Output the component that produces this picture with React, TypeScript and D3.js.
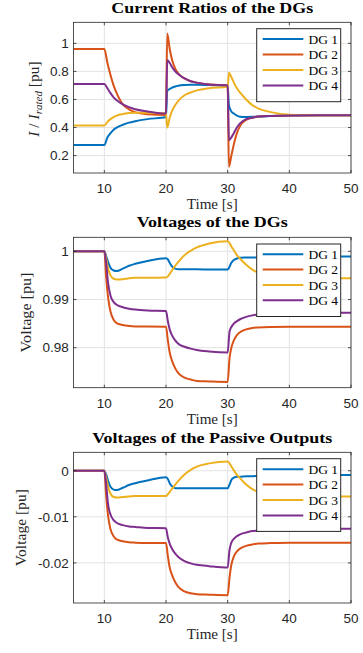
import React from "react";
import * as d3 from "d3";

// ---------- DATA ----------
const SERIES_NAMES = ["DG 1", "DG 2", "DG 3", "DG 4"];
const X_TICKS = [10, 20, 30, 40, 50];
const X_TICK_LABELS = ["10", "20", "30", "40", "50"];

// Plot 1: current ratios
const T1 = [5, 10, 10.5, 11, 11.5, 12, 13, 14, 15, 17, 20, 20.2, 20.6, 21, 21.5, 22, 23, 24, 25, 27, 30, 30.2, 30.6, 31, 31.5, 32, 33, 34, 35, 37, 40, 45, 50];
const CUR_DG1 = [0.275, 0.275, 0.33, 0.36, 0.385, 0.4, 0.42, 0.435, 0.445, 0.46, 0.475, 0.66, 0.675, 0.685, 0.693, 0.698, 0.703, 0.705, 0.705, 0.703, 0.7, 0.56, 0.515, 0.5, 0.485, 0.477, 0.475, 0.476, 0.478, 0.482, 0.486, 0.487, 0.487];
const CUR_DG2 = [0.96, 0.96, 0.86, 0.775, 0.7, 0.645, 0.565, 0.53, 0.51, 0.495, 0.49, 1.07, 0.96, 0.88, 0.82, 0.785, 0.75, 0.73, 0.72, 0.707, 0.7, 0.12, 0.2, 0.28, 0.36, 0.41, 0.455, 0.47, 0.478, 0.483, 0.486, 0.487, 0.487];
const CUR_DG3 = [0.415, 0.415, 0.44, 0.46, 0.475, 0.485, 0.497, 0.503, 0.506, 0.505, 0.5, 0.4, 0.47, 0.52, 0.56, 0.59, 0.63, 0.65, 0.665, 0.68, 0.69, 0.79, 0.76, 0.72, 0.68, 0.65, 0.6, 0.56, 0.535, 0.51, 0.492, 0.488, 0.487];
const CUR_DG4 = [0.71, 0.71, 0.68, 0.645, 0.615, 0.595, 0.565, 0.545, 0.53, 0.515, 0.5, 0.88, 0.86, 0.83, 0.8, 0.78, 0.75, 0.73, 0.72, 0.707, 0.7, 0.31, 0.33, 0.36, 0.4, 0.43, 0.46, 0.47, 0.478, 0.483, 0.486, 0.487, 0.487];
const Y1_TICKS = [0.2, 0.4, 0.6, 0.8, 1];
const Y1_TICK_LABELS = ["0.2", "0.4", "0.6", "0.8", "1"];

// Plots 2 & 3 share time samples
const T2 = [5, 10, 10.3, 10.6, 11, 11.5, 12, 13, 14, 15, 17, 20, 20.3, 20.6, 21, 21.5, 22, 23, 24, 25, 27, 30, 30.3, 30.6, 31, 31.5, 32, 33, 34, 35, 37, 40, 45, 50];

// Plot 2: voltages of the DGs
const VDG_DG1 = [1, 1, 0.999, 0.9978, 0.9966, 0.996, 0.9959, 0.9964, 0.997, 0.9974, 0.998, 0.99855, 0.9983, 0.9976, 0.9968, 0.9964, 0.99625, 0.99625, 0.99625, 0.99625, 0.99622, 0.9962, 0.9968, 0.9976, 0.9982, 0.9985, 0.99865, 0.9987, 0.99872, 0.99875, 0.9988, 0.99885, 0.9989, 0.9989];
const VDG_DG2 = [1, 1, 0.9945, 0.9905, 0.9875, 0.9858, 0.9851, 0.9847, 0.9845, 0.9844, 0.9844, 0.98435, 0.9815, 0.979, 0.9772, 0.9757, 0.9747, 0.9738, 0.9734, 0.9731, 0.973, 0.9729, 0.9778, 0.98, 0.9815, 0.9826, 0.9832, 0.9838, 0.9841, 0.9842, 0.9843, 0.98435, 0.98436, 0.98436];
const VDG_DG3 = [1, 1, 0.9985, 0.9965, 0.995, 0.9943, 0.99415, 0.9942, 0.9944, 0.9945, 0.9945, 0.99455, 0.9948, 0.9953, 0.9961, 0.997, 0.9978, 0.9992, 1.0001, 1.0008, 1.0016, 1.0021, 1.0017, 1.001, 1.0002, 0.9992, 0.9985, 0.9972, 0.9962, 0.9955, 0.9949, 0.99455, 0.99442, 0.9944];
const VDG_DG4 = [1, 1, 0.9975, 0.9935, 0.9908, 0.9895, 0.9889, 0.9884, 0.9881, 0.9879, 0.9877, 0.9876, 0.9855, 0.9838, 0.9825, 0.9815, 0.9808, 0.9802, 0.9798, 0.9795, 0.9792, 0.979, 0.9833, 0.9843, 0.985, 0.9855, 0.9859, 0.9864, 0.9867, 0.9869, 0.9871, 0.98715, 0.98725, 0.98727];
const Y2_TICKS = [0.98, 0.99, 1];
const Y2_TICK_LABELS = ["0.98", "0.99", "1"];

// Plot 3: voltages of the passive outputs
const VPO_DG1 = [0, 0, -0.0008, -0.0022, -0.0035, -0.0041, -0.0042, -0.0037, -0.0031, -0.0027, -0.0021, -0.0014, -0.0018, -0.0027, -0.0034, -0.0038, -0.0038, -0.0038, -0.0038, -0.0038, -0.0038, -0.0038, -0.003, -0.002, -0.0015, -0.0013, -0.0013, -0.0012, -0.0012, -0.0011, -0.0011, -0.001, -0.00095, -0.0009];
const VPO_DG2 = [0, 0, -0.0055, -0.0097, -0.0127, -0.0142, -0.0149, -0.0153, -0.0155, -0.0156, -0.0157, -0.0157, -0.0185, -0.021, -0.0227, -0.0242, -0.0252, -0.0262, -0.0266, -0.0268, -0.0269, -0.027, -0.0232, -0.0204, -0.0186, -0.0175, -0.0169, -0.0163, -0.016, -0.0158, -0.0157, -0.0156, -0.0156, -0.0156];
const VPO_DG3 = [0, 0, -0.0015, -0.0035, -0.005, -0.0057, -0.0058, -0.0057, -0.0056, -0.0055, -0.0055, -0.0055, -0.0051, -0.0046, -0.0039, -0.003, -0.0022, -0.0008, 0.0002, 0.0009, 0.0016, 0.002, 0.0016, 0.0009, 0.0001, -0.0009, -0.0016, -0.003, -0.004, -0.0046, -0.0052, -0.0055, -0.0056, -0.0056];
const VPO_DG4 = [0, 0, -0.003, -0.0072, -0.0095, -0.0107, -0.0113, -0.0118, -0.0121, -0.0122, -0.0124, -0.01247, -0.0145, -0.0158, -0.017, -0.018, -0.0187, -0.0196, -0.0201, -0.0204, -0.0207, -0.021, -0.0172, -0.0156, -0.0148, -0.0142, -0.0138, -0.0134, -0.0131, -0.013, -0.0128, -0.0127, -0.0126, -0.0126];
const Y3_TICKS = [-0.02, -0.01, 0];
const Y3_TICK_LABELS = ["-0.02", "-0.01", "0"];

// ---------- STYLE ----------
const COLORS = ["#0072BD", "#D95319", "#EDB120", "#7E2F8E"];
const AXIS_COLOR = "#262626";
const GRID_COLOR = "#e3e3e3";
const SANS = "'Liberation Sans', Arial, Helvetica, sans-serif";
const SERIF = "'Liberation Serif', 'Times New Roman', serif";
const X_LEFT = 73.5;
const X_RIGHT = 351;

type PanelProps = {
  id: string;
  top: number;
  bottom: number;
  yDomain: [number, number];
  yTicks: number[];
  yTickLabels: string[];
  times: number[];
  series: number[][];
  title: string;
  titleY: number;
  titleLen: number;
  xTickY: number;
  xLabelY: number;
  ylabel: React.ReactNode;
  ylabelX: number;
  ylabelLen?: number;
  ylabelSize?: number;
  ylabelCy?: number;
  legendY: number;
  legendRows: number[];
};

function Panel(p: PanelProps) {
  const x = d3.scaleLinear().domain([5, 50]).range([X_LEFT, X_RIGHT]);
  const y = d3.scaleLinear().domain(p.yDomain).range([p.bottom, p.top]);
  const line = d3
    .line<[number, number]>()
    .x((d) => x(d[0]))
    .y((d) => y(d[1]))
    .curve(d3.curveMonotoneX);
  const tickLen = 3;
  const cy = p.ylabelCy ?? (p.top + p.bottom) / 2;
  const cx = (X_LEFT + X_RIGHT) / 2;
  const legX = 256.7;
  const legW = 84;
  const legH = p.legendRows[3] - p.legendRows[0] + 26.5;
  return (
    <g>
      <defs>
        <clipPath id={"clip" + p.id}>
          <rect x={X_LEFT} y={p.top} width={X_RIGHT - X_LEFT} height={p.bottom - p.top} />
        </clipPath>
      </defs>
      <rect x={X_LEFT} y={p.top} width={X_RIGHT - X_LEFT} height={p.bottom - p.top} fill="#fff" />
      {/* grid */}
      {X_TICKS.map((t) => (
        <line key={"gx" + t} x1={x(t)} x2={x(t)} y1={p.top} y2={p.bottom} stroke={GRID_COLOR} strokeWidth={1} />
      ))}
      {p.yTicks.map((t) => (
        <line key={"gy" + t} x1={X_LEFT} x2={X_RIGHT} y1={y(t)} y2={y(t)} stroke={GRID_COLOR} strokeWidth={1} />
      ))}
      {/* series */}
      <g clipPath={`url(#clip${p.id})`}>
        {p.series.map((s, i) => (
          <path
            key={"s" + i}
            d={line(p.times.map((t, k) => [t, s[k]] as [number, number])) || ""}
            fill="none"
            stroke={COLORS[i]}
            strokeWidth={2}
            strokeLinejoin="round"
          />
        ))}
      </g>
      {/* box */}
      <rect x={X_LEFT} y={p.top} width={X_RIGHT - X_LEFT} height={p.bottom - p.top} fill="none" stroke={AXIS_COLOR} strokeWidth={0.8} />
      {/* ticks */}
      {X_TICKS.map((t) => (
        <g key={"tx" + t}>
          <line x1={x(t)} x2={x(t)} y1={p.bottom} y2={p.bottom - tickLen} stroke={AXIS_COLOR} strokeWidth={0.8} />
          <line x1={x(t)} x2={x(t)} y1={p.top} y2={p.top + tickLen} stroke={AXIS_COLOR} strokeWidth={0.8} />
        </g>
      ))}
      {p.yTicks.map((t) => (
        <g key={"ty" + t}>
          <line x1={X_LEFT} x2={X_LEFT + tickLen} y1={y(t)} y2={y(t)} stroke={AXIS_COLOR} strokeWidth={0.8} />
          <line x1={X_RIGHT} x2={X_RIGHT - tickLen} y1={y(t)} y2={y(t)} stroke={AXIS_COLOR} strokeWidth={0.8} />
        </g>
      ))}
      {/* tick labels */}
      {X_TICKS.map((t, i) => (
        <text key={"lx" + t} x={x(t)} y={p.xTickY} textAnchor="middle" fontFamily={SANS} fontSize={13.5} fill={AXIS_COLOR}>
          {X_TICK_LABELS[i]}
        </text>
      ))}
      {p.yTicks.map((t, i) => (
        <text key={"ly" + t} x={68.8} y={y(t) + 4.8} textAnchor="end" fontFamily={SANS} fontSize={13.5} fill={AXIS_COLOR}>
          {p.yTickLabels[i]}
        </text>
      ))}
      {/* title */}
      <text x={cx} y={p.titleY} textAnchor="middle" fontFamily={SERIF} fontWeight="bold" fontSize={14} fill="#000" textLength={p.titleLen} lengthAdjust="spacingAndGlyphs">
        {p.title}
      </text>
      {/* x label */}
      <text x={cx} y={p.xLabelY} textAnchor="middle" fontFamily={SERIF} fontSize={14} fill={AXIS_COLOR} textLength={51} lengthAdjust="spacingAndGlyphs">
        Time [s]
      </text>
      {/* y label */}
      <text
        transform={`translate(${p.ylabelX},${cy}) rotate(-90)`}
        textAnchor="middle"
        fontFamily={SERIF}
        fontSize={p.ylabelSize ?? 14}
        fill={AXIS_COLOR}
        textLength={p.ylabelLen}
        lengthAdjust={p.ylabelLen ? "spacingAndGlyphs" : undefined}
      >
        {p.ylabel}
      </text>
      {/* legend */}
      <rect x={legX} y={p.legendY} width={legW} height={legH} fill="#fff" stroke={AXIS_COLOR} strokeWidth={1} />
      {SERIES_NAMES.map((n, i) => (
        <g key={"lg" + i}>
          <line x1={262.7} x2={303.3} y1={p.legendRows[i]} y2={p.legendRows[i]} stroke={COLORS[i]} strokeWidth={2} />
          <text x={308.5} y={p.legendRows[i] + 4.5} fontFamily={SERIF} fontSize={13.5} fill="#000">
            {n}
          </text>
        </g>
      ))}
    </g>
  );
}

export default function App() {
  return (
    <svg
      width={363}
      height={653}
      viewBox="0 0 363 653"
      style={{ position: "absolute", left: 0, top: 0, background: "#fff" }}
    >
      <rect x={0} y={0} width={363} height={653} fill="#fff" />
      <Panel
        id="1"
        top={22.3}
        bottom={173}
        yDomain={[0.076, 1.15]}
        yTicks={Y1_TICKS}
        yTickLabels={Y1_TICK_LABELS}
        times={T1}
        series={[CUR_DG1, CUR_DG2, CUR_DG3, CUR_DG4]}
        title="Current Ratios of the DGs"
        titleY={13.3}
        titleLen={202}
        xTickY={192.7}
        xLabelY={208.8}
        ylabelX={39}
        ylabelSize={15.5}
        ylabelCy={99}
        ylabel={
          <>
            <tspan fontStyle="italic">I</tspan>
            <tspan> / </tspan>
            <tspan fontStyle="italic">I</tspan>
            <tspan fontStyle="italic" fontSize={11} dy={3}>rated</tspan>
            <tspan dy={-3}> [pu]</tspan>
          </>
        }
        legendY={28.7}
        legendRows={[39, 54.5, 70, 85.5]}
      />
      <Panel
        id="2"
        top={237.3}
        bottom={387.7}
        yDomain={[0.9717, 1.0029]}
        yTicks={Y2_TICKS}
        yTickLabels={Y2_TICK_LABELS}
        times={T2}
        series={[VDG_DG1, VDG_DG2, VDG_DG3, VDG_DG4]}
        title="Voltages of the DGs"
        titleY={227.3}
        titleLen={151}
        xTickY={407.7}
        xLabelY={424}
        ylabelX={30.5}
        ylabelLen={80}
        ylabel={"Voltage [pu]"}
        legendY={244}
        legendRows={[254.3, 269.5, 285, 300.3]}
      />
      <Panel
        id="3"
        top={452.3}
        bottom={603}
        yDomain={[-0.0287, 0.004]}
        yTicks={Y3_TICKS}
        yTickLabels={Y3_TICK_LABELS}
        times={T2}
        series={[VPO_DG1, VPO_DG2, VPO_DG3, VPO_DG4]}
        title="Voltages of the Passive Outputs"
        titleY={443.3}
        titleLen={240}
        xTickY={622.7}
        xLabelY={639}
        ylabelX={25.5}
        ylabelLen={77}
        ylabel={"Voltage [pu]"}
        legendY={458.7}
        legendRows={[469.3, 484.5, 500, 515.5]}
      />
    </svg>
  );
}
